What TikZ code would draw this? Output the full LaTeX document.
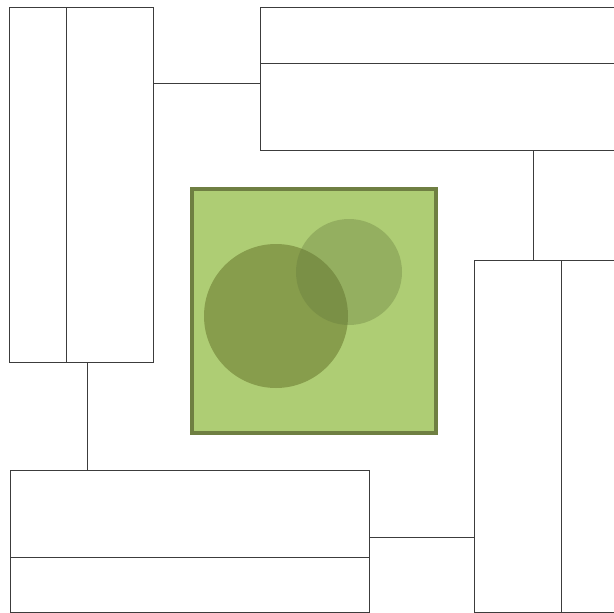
\documentclass[tikz,border=0pt]{standalone}
\definecolor{linegray}{RGB}{60,60,60}
\definecolor{sqfill}{RGB}{174,205,116}
\definecolor{sqborder}{RGB}{111,127,66}
\definecolor{circA}{RGB}{135,157,76}
\definecolor{circB}{RGB}{100,120,60}
\begin{document}
\begin{tikzpicture}[x=1pt,y=-1pt,
  box/.style={draw=linegray, line width=1pt, fill=white, inner sep=0pt, anchor=north west},
  conn/.style={draw=linegray, line width=1pt},
  divider/.style={draw=linegray, line width=1pt}]
\useasboundingbox (0,0) rectangle (614,613);
\clip (0,0) rectangle (614,613);
% boxes
\node[box, minimum width=144pt, minimum height=355pt] (L) at (9,7) {};
\node[box, minimum width=364pt, minimum height=143pt] (T) at (260,7) {};
\node[box, minimum width=150pt, minimum height=352pt] (R) at (474,260) {};
\node[box, minimum width=359pt, minimum height=142pt] (B) at (10,470) {};
% dividers
\draw[divider] ([xshift=57pt]L.north west) -- ([xshift=57pt]L.south west);
\draw[divider] ([yshift=-56pt]T.north west) -- ([yshift=-56pt]T.north east);
\draw[divider] ([xshift=87pt]R.north west) -- ([xshift=87pt]R.south west);
\draw[divider] ([yshift=-87pt]B.north west) -- ([yshift=-87pt]B.north east);
% connectors
\draw[conn] ([yshift=-76pt]L.north east) -- ([yshift=-76pt]T.north west);
\draw[conn] ([xshift=273pt]T.south west) -- ([xshift=59pt]R.north west);
\draw[conn] ([yshift=-277pt]R.north west) -- ([yshift=-67pt]B.north east);
\draw[conn] ([xshift=77pt]B.north west) -- ([xshift=78pt]L.south west);
% green square with circles
\node[draw=sqborder, line width=4pt, fill=sqfill, minimum width=244pt, minimum height=244pt, inner sep=0pt, anchor=north west] (S) at (190,187) {};
\fill[circA] (276,316) circle[radius=72];
\fill[circB, fill opacity=0.35] (349,272) circle[radius=53];
\end{tikzpicture}
\end{document}
